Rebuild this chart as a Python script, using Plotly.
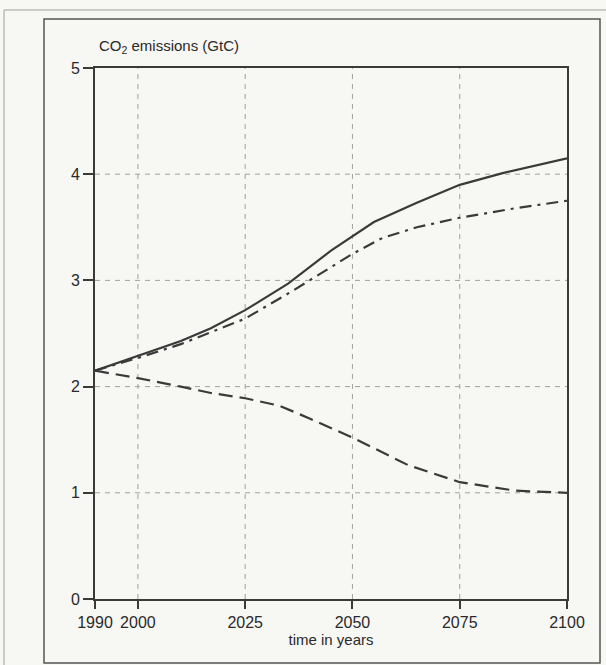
import plotly.graph_objects as go

# ---- data ----
years_a = [1990, 2000, 2010, 2017, 2025, 2035, 2045, 2055, 2065, 2075, 2085, 2100]
solid_vals = [2.15, 2.29, 2.43, 2.55, 2.72, 2.97, 3.28, 3.55, 3.73, 3.90, 4.01, 4.15]

years_b = [1990, 2000, 2010, 2017, 2025, 2036, 2050, 2057, 2065, 2075, 2088, 2100]
dashdot_vals = [2.15, 2.27, 2.40, 2.51, 2.64, 2.90, 3.25, 3.40, 3.50, 3.59, 3.68, 3.75]

years_c = [1990, 2000, 2010, 2017, 2025, 2033, 2040, 2050, 2063, 2075, 2088, 2100]
dashed_vals = [2.15, 2.08, 2.00, 1.94, 1.89, 1.82, 1.70, 1.52, 1.26, 1.10, 1.02, 1.00]

x_ticks = [1990, 2000, 2025, 2050, 2075, 2100]
y_ticks = [0, 1, 2, 3, 4, 5]

FONT = "Liberation Sans, Arial, sans-serif"
INK = "#3a3a3a"
BG = "#f7f7f4"

fig = go.Figure()
fig.add_trace(go.Scatter(x=years_a, y=solid_vals, mode="lines",
                         line=dict(color=INK, width=2.2, dash="solid")))
fig.add_trace(go.Scatter(x=years_b, y=dashdot_vals, mode="lines",
                         line=dict(color=INK, width=2.2, dash="12px,6px,3px,6px")))
fig.add_trace(go.Scatter(x=years_c, y=dashed_vals, mode="lines",
                         line=dict(color=INK, width=2.2, dash="14px,7px")))

L, R, T, B = 95, 39, 68, 66
W, H = 606, 665
pw, ph = W - L - R, H - T - B

def px(x):
    return (x - L) / pw

def py(y):
    return (H - B - y) / ph

fig.update_layout(
    width=W, height=H,
    margin=dict(l=L, r=R, t=T, b=B, pad=0),
    paper_bgcolor=BG, plot_bgcolor=BG,
    showlegend=False,
    font=dict(family=FONT, size=16, color="#2a2a2a"),
    xaxis=dict(range=[1990, 2100], tickvals=x_ticks, ticktext=[str(v) for v in x_ticks],
               showgrid=False, zeroline=False,
               showline=True, linecolor=INK, linewidth=2, mirror=True,
               ticks="outside", ticklen=8, tickwidth=2, tickcolor=INK,
               title=dict(text="time in years", font=dict(size=15), standoff=3)),
    yaxis=dict(range=[0, 5], tickvals=y_ticks, ticktext=[str(v) for v in y_ticks],
               showgrid=False, zeroline=False,
               showline=True, linecolor=INK, linewidth=2, mirror=True,
               ticks="outside", ticklen=10, tickwidth=2, tickcolor=INK),
)

shapes = []
# dashed grid
for xv in [2000, 2025, 2050, 2075]:
    shapes.append(dict(type="line", xref="x", yref="y", x0=xv, x1=xv, y0=0, y1=5,
                       line=dict(color="#a0a0a0", width=1, dash="5px,5px"), layer="below"))
for yv in [1, 2, 3, 4]:
    shapes.append(dict(type="line", xref="x", yref="y", x0=1990, x1=2100, y0=yv, y1=yv,
                       line=dict(color="#a0a0a0", width=1, dash="5px,5px"), layer="below"))
# inner frame
shapes.append(dict(type="rect", xref="paper", yref="paper",
                   x0=px(44), x1=px(600), y0=py(663), y1=py(19),
                   line=dict(color="#555555", width=1.5)))
# scan edge lines
shapes.append(dict(type="line", xref="paper", yref="paper",
                   x0=px(4), x1=px(4), y0=py(665), y1=py(10),
                   line=dict(color="#bbbbbb", width=1.5)))
shapes.append(dict(type="line", xref="paper", yref="paper",
                   x0=px(4), x1=px(606), y0=py(10), y1=py(10),
                   line=dict(color="#bbbbbb", width=1.5)))
fig.update_layout(shapes=shapes)

fig.add_annotation(xref="paper", yref="paper", x=px(97), y=py(46),
                   xanchor="left", yanchor="middle", showarrow=False,
                   text="CO<sub>2</sub> emissions (GtC)", font=dict(size=15))

fig.write_html("out.html", config={"displayModeBar": False},
               post_script="document.body.style.margin='0';document.body.style.padding='0';")
